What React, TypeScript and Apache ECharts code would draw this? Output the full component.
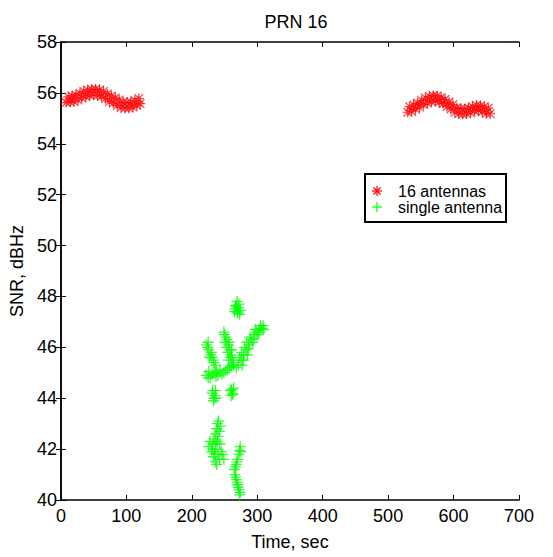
import React, { useEffect, useRef } from "react";
import * as echarts from "echarts";

const title = "PRN 16";
const xAxisName = "Time, sec";
const yAxisName = "SNR, dBHz";
const seriesNames = ["16 antennas", "single antenna"];

// [time (sec), SNR (dBHz)]
const antennas16: [number, number][] = [
  [8, 55.62], [11, 55.84], [14, 55.64], [17, 55.88], [20, 55.66], [23, 55.92], [26, 55.72],
  [29, 55.98], [32, 55.80], [35, 56.06], [38, 55.86], [41, 56.12], [44, 55.90], [47, 56.14],
  [50, 55.92], [53, 56.15], [56, 55.90], [59, 56.12], [62, 55.86], [65, 56.06], [68, 55.78],
  [71, 55.96], [74, 55.66], [77, 55.88], [80, 55.60], [83, 55.80], [86, 55.50], [89, 55.72],
  [92, 55.42], [95, 55.64], [98, 55.40], [101, 55.62], [104, 55.40], [107, 55.64], [110, 55.44],
  [113, 55.70], [116, 55.50], [119, 55.78], [121, 55.58],
  [530, 55.24], [533, 55.46], [536, 55.28], [539, 55.52], [542, 55.36], [545, 55.60], [548, 55.44],
  [551, 55.70], [554, 55.54], [557, 55.80], [560, 55.60], [563, 55.86], [566, 55.66], [569, 55.90],
  [572, 55.68], [575, 55.88], [578, 55.64], [581, 55.82], [584, 55.58], [587, 55.74], [590, 55.46],
  [593, 55.64], [596, 55.36], [599, 55.54], [602, 55.24], [605, 55.42], [608, 55.18], [611, 55.38],
  [614, 55.16], [617, 55.38], [620, 55.18], [623, 55.40], [626, 55.22], [629, 55.46], [632, 55.30],
  [635, 55.52], [638, 55.32], [641, 55.50], [644, 55.26], [647, 55.46], [650, 55.20], [653, 55.40],
  [656, 55.18],
];

const singleAntenna: [number, number][] = [
  [268, 47.6], [270, 47.4], [272, 47.7], [266, 47.5], [273, 47.3], [269, 47.8],
  [267, 47.65], [271, 47.55], [270, 47.35], [274, 47.45], [265, 47.4],
  [271, 45.3], [275, 45.5], [279, 45.7], [283, 45.9], [287, 46.1], [291, 46.3], [295, 46.5],
  [299, 46.6], [303, 46.7], [307, 46.75], [310, 46.7], [277, 45.3], [285, 45.7], [293, 46.2],
  [301, 46.5], [276, 45.8], [284, 46.2],
  [273, 45.6], [281, 46.0], [289, 46.4], [297, 46.7], [305, 46.85], [279, 45.5], [287, 45.95],
  [295, 46.35], [303, 46.6], [309, 46.85],
  [250, 46.5], [254, 46.3], [256, 46.1], [258, 45.9], [260, 45.7], [262, 45.5], [252, 46.4],
  [255, 45.8], [264, 45.4], [268, 45.2],
  [251, 46.2], [253, 46.0], [257, 46.2], [259, 45.6], [261, 45.9], [249, 46.6], [256, 45.5],
  [222, 46.1], [226, 45.9], [229, 45.7], [233, 45.5], [236, 45.3], [231, 45.6],
  [224, 46.0], [227, 45.6], [230, 45.8], [234, 45.4], [225, 46.2],
  [222, 44.9], [228, 44.8], [234, 45.0], [240, 44.9], [246, 44.95], [252, 45.1], [258, 45.2],
  [264, 45.3], [226, 45.05], [243, 45.1],
  [225, 44.8], [231, 44.95], [237, 44.85], [249, 45.0], [255, 45.15], [261, 45.25], [238, 45.05],
  [231, 44.2], [234, 44.0], [236, 44.3], [233, 43.9], [235, 44.1], [232, 44.3], [237, 44.0],
  [259, 44.3], [262, 44.2], [264, 44.4], [260, 44.1], [261, 44.35], [263, 44.15],
  [241, 43.1], [244, 42.9], [238, 42.8], [236, 42.6], [240, 42.5], [234, 42.4], [232, 42.2],
  [226, 42.1], [230, 41.9], [236, 42.0], [233, 41.7], [240, 41.8], [238, 41.4], [245, 41.9],
  [249, 41.6], [243, 42.2],
  [239, 43.0], [242, 42.7], [237, 42.2], [235, 41.8], [231, 42.0], [228, 42.3], [239, 42.3],
  [242, 41.6], [236, 41.5], [247, 41.8],
  [274, 42.1], [272, 41.8], [270, 41.6], [268, 41.4], [265, 41.2], [266, 41.0], [268, 40.8],
  [270, 40.6], [272, 40.4], [274, 40.3],
  [273, 41.95], [269, 41.5], [267, 41.3], [267, 40.9], [269, 40.7], [271, 40.5], [273, 40.2],
  [275, 41.9],
];

const xTicks = { min: 0, max: 700, interval: 100 };
const yTicks = { min: 40, max: 58, interval: 2 };

const FONT = "'Liberation Sans', Arial, Helvetica, sans-serif";

const plusPath = "path://M0,4.4H10V5.6H0Z M4.4,0H5.6V10H4.4Z";
const starPath =
  "path://M0,4.4H10V5.6H0Z M4.4,0H5.6V10H4.4Z M1.1,0.3L9.7,8.9L8.9,9.7L0.3,1.1Z M8.9,0.3L9.7,1.1L1.1,9.7L0.3,8.9Z";

export default function App() {
  const ref = useRef<HTMLDivElement>(null);
  useEffect(() => {
    if (!ref.current) return;
    const chart = echarts.init(ref.current, null, { renderer: "svg" });
    const axisLine = { show: true, lineStyle: { color: "#000", width: 1.5 } };
    const tick = { show: true, inside: true, length: 5, lineStyle: { color: "#000", width: 1 } };
    const label = { color: "#000", fontSize: 18, fontFamily: FONT };
    chart.setOption({
      animation: false,
      backgroundColor: "#fff",
      title: {
        text: title,
        left: 291,
        textAlign: "center",
        top: 8,
        textStyle: { fontSize: 18, fontWeight: "normal", color: "#000", fontFamily: FONT },
      },
      grid: { left: 57, top: 42, width: 462, height: 458, containLabel: false },
      xAxis: [
        {
          type: "value",
          ...xTicks,
          position: "bottom",
          axisLine,
          axisTick: tick,
          splitLine: { show: false },
          axisLabel: { ...label, margin: 7 },
          name: xAxisName,
          nameLocation: "middle",
          nameGap: 33,
          nameTextStyle: { ...label },
        },
        {
          type: "value",
          ...xTicks,
          position: "top",
          axisLine,
          axisTick: tick,
          splitLine: { show: false },
          axisLabel: { show: false },
        },
      ],
      yAxis: [
        {
          type: "value",
          ...yTicks,
          position: "left",
          axisLine,
          axisTick: tick,
          splitLine: { show: false },
          axisLabel: { ...label, margin: 4 },
          name: yAxisName,
          nameLocation: "middle",
          nameGap: 23,
          nameTextStyle: { ...label },
        },
        {
          type: "value",
          ...yTicks,
          position: "right",
          axisLine,
          axisTick: tick,
          splitLine: { show: false },
          axisLabel: { show: false },
        },
      ],
      series: [
        {
          name: seriesNames[0],
          type: "scatter",
          data: antennas16,
          symbol: starPath,
          symbolSize: 10,
          itemStyle: { color: "#ff0000" },
        },
        {
          name: seriesNames[1],
          type: "scatter",
          data: singleAntenna,
          symbol: plusPath,
          symbolSize: 11,
          itemStyle: { color: "#00ff00" },
        },
      ],
      graphic: [
        {
          type: "rect",
          shape: { x: 365, y: 174, width: 141, height: 48 },
          style: { fill: "#fff", stroke: "#000", lineWidth: 2 },
          z: 100,
        },
        { type: "line", shape: { x1: 377, y1: 186, x2: 377, y2: 196 }, style: { stroke: "#ff0000", lineWidth: 1.2 }, z: 101 },
        { type: "line", shape: { x1: 372, y1: 191, x2: 382, y2: 191 }, style: { stroke: "#ff0000", lineWidth: 1.2 }, z: 101 },
        { type: "line", shape: { x1: 373.5, y1: 187.5, x2: 380.5, y2: 194.5 }, style: { stroke: "#ff0000", lineWidth: 1.2 }, z: 101 },
        { type: "line", shape: { x1: 380.5, y1: 187.5, x2: 373.5, y2: 194.5 }, style: { stroke: "#ff0000", lineWidth: 1.2 }, z: 101 },
        { type: "line", shape: { x1: 377, y1: 202, x2: 377, y2: 212 }, style: { stroke: "#00ff00", lineWidth: 1.2 }, z: 101 },
        { type: "line", shape: { x1: 372, y1: 207, x2: 382, y2: 207 }, style: { stroke: "#00ff00", lineWidth: 1.2 }, z: 101 },
        {
          type: "text",
          x: 398,
          y: 191,
          style: { text: seriesNames[0], fontSize: 16, fontFamily: FONT, fill: "#000", verticalAlign: "middle" },
          z: 101,
        },
        {
          type: "text",
          x: 398,
          y: 207,
          style: { text: seriesNames[1], fontSize: 16, fontFamily: FONT, fill: "#000", verticalAlign: "middle" },
          z: 101,
        },
      ],
    });
    return () => chart.dispose();
  }, []);
  return (
    <div
      ref={ref}
      style={{ position: "fixed", left: 0, top: 0, width: 553, height: 557 }}
    />
  );
}
